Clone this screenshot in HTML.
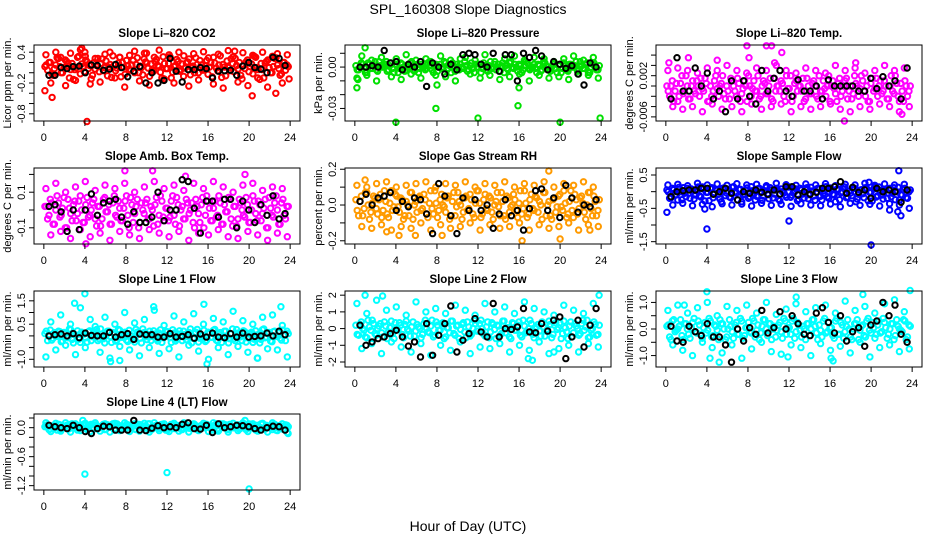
<!DOCTYPE html>
<html><head><meta charset="utf-8"><style>
html,body{margin:0;padding:0;background:#fff}
svg{display:block;font-family:"Liberation Sans",Arial,sans-serif}
</style></head><body>
<svg id="chart" width="936" height="540" viewBox="0 0 936 540" xmlns="http://www.w3.org/2000/svg">
<text x="468" y="14" font-size="14" text-anchor="middle">SPL_160308  Slope Diagnostics</text>
<text x="468" y="531" font-size="14" text-anchor="middle">Hour of Day (UTC)</text>
</svg>
<script>
const xCore=[0.1,0.37,0.63,0.9,1.16,1.43,1.69,1.96,2.22,2.49,2.75,3.02,3.28,3.55,3.81,4.08,4.34,4.61,4.87,5.14,5.4,5.67,5.93,6.2,6.46,6.73,6.99,7.26,7.52,7.79,8.05,8.32,8.58,8.85,9.11,9.38,9.64,9.91,10.17,10.44,10.7,10.97,11.23,11.5,11.76,12.03,12.29,12.56,12.82,13.09,13.35,13.62,13.88,14.15,14.41,14.68,14.94,15.21,15.47,15.74,16.0,16.27,16.53,16.8,17.06,17.33,17.59,17.86,18.12,18.39,18.65,18.92,19.18,19.45,19.71,19.98,20.24,20.51,20.77,21.04,21.3,21.57,21.83,22.1,22.36,22.63,22.89,23.16,23.42,23.69];
const xCore2=[0.23,0.5,0.76,1.03,1.29,1.56,1.82,2.09,2.35,2.62,2.88,3.15,3.41,3.68,3.94,4.21,4.47,4.74,5.0,5.27,5.53,5.8,6.06,6.33,6.59,6.86,7.12,7.39,7.65,7.92,8.18,8.45,8.71,8.98,9.24,9.51,9.77,10.04,10.3,10.57,10.83,11.1,11.36,11.63,11.89,12.16,12.42,12.69,12.95,13.22,13.48,13.75,14.01,14.28,14.54,14.81,15.07,15.34,15.6,15.87,16.13,16.4,16.66,16.93,17.19,17.46,17.72,17.99,18.25,18.52,18.78,19.05,19.31,19.58,19.84,20.11,20.37,20.64,20.9,21.17,21.43,21.7,21.96,22.23,22.49,22.76,23.02,23.29,23.55,23.82];
const xSpread=[0.2,0.68,1.16,1.64,2.12,2.6,3.08,3.56,4.04,4.52,5.0,5.48,5.96,6.44,6.92,7.4,7.88,8.36,8.84,9.32,9.8,10.28,10.76,11.24,11.72,12.2,12.68,13.16,13.64,14.12,14.6,15.08,15.56,16.04,16.52,17.0,17.48,17.96,18.44,18.92,19.4,19.88,20.36,20.84,21.32,21.8,22.28,22.76,23.24,23.72];
const xBlack=[0.5,1.09,1.68,2.27,2.86,3.45,4.04,4.63,5.22,5.81,6.4,6.99,7.58,8.17,8.76,9.35,9.94,10.53,11.12,11.71,12.3,12.89,13.48,14.07,14.66,15.25,15.84,16.43,17.02,17.61,18.2,18.79,19.38,19.97,20.56,21.15,21.74,22.33,22.92,23.51];
const xTicks=[0,4,8,12,16,20,24];

const co2Core=[0.12,0.05,0.2,-0.05,0.15,0.28,0.0,0.1,0.22,-0.1,0.18,0.06,0.3,-0.02,0.12,0.25,0.08,-0.12,0.2,0.14,0.02,0.27,0.1,-0.06,0.16,0.33,0.04,0.19,-0.08,0.11,0.24,0.07,0.15,0.0,0.29,0.13,-0.04,0.21,0.09,0.17,0.03,0.26,0.12,-0.1,0.18,0.08,0.31,0.01,0.14,0.22,0.06,-0.07,0.19,0.27,0.1,0.0,0.16,0.24,0.05,0.13,-0.03,0.2,0.3,0.09,0.15,-0.09,0.11,0.23,0.04,0.18,0.28,0.07,-0.05,0.14,0.21,0.02,0.17,0.32,0.1,-0.13,0.06,0.19,0.25,0.0,0.12,0.29,0.08,-0.02,0.2,0.15];
const co2Spread=[0.35,-0.2,0.4,0.3,-0.25,0.38,-0.15,0.45,0.32,-0.22,0.28,-0.18,0.36,0.4,-0.1,0.3,-0.28,0.34,0.42,-0.16,0.38,-0.24,0.3,0.44,-0.12,0.35,-0.2,0.4,0.33,-0.26,0.37,-0.14,0.41,0.29,-0.22,0.36,-0.3,0.43,0.31,-0.18,0.39,-0.25,0.34,-0.1,0.4,-0.28,0.32,0.37,-0.2,0.35];
const co2OutX=[0.1,0.8,3.7,4.0,4.2,10.0,18.6,20.3,22.6,23.9];
const co2OutY=[-0.35,-0.48,0.48,0.4,-0.95,0.38,0.42,-0.45,-0.4,-0.12];
const co2Black=[-0.05,-0.05,0.1,0.08,0.12,0.13,0.0,0.15,0.14,0.05,0.07,0.16,0.1,-0.08,0.03,0.12,-0.2,0.0,-0.2,-0.15,0.28,0.03,-0.18,0.06,0.06,0.1,0.08,-0.1,0.03,0.04,0.05,-0.05,0.13,0.2,0.1,0.07,0.0,0.3,0.28,0.14];

const presCore=[0.001,-0.002,0.003,0,-0.004,0.002,-0.001,0.004,-0.003,0.001,0,0.002,-0.002,0.003,-0.004,0.001,-0.001,0.002,-0.003,0,0.003,-0.002,0.001,-0.004,0.002,0,-0.001,0.004,-0.002,0.001,-0.003,0.002,0,0.003,-0.001,-0.004,0.001,0.002,-0.002,0,0.004,-0.003,0.001,-0.001,0.002,0,-0.004,0.003,-0.002,0.001,-0.001,0.002,0,-0.003,0.003,0.001,-0.002,0.004,-0.001,0,0.002,-0.004,0.001,0.003,-0.002,0,-0.001,0.002,-0.003,0.004,0.001,-0.002,0,0.003,-0.004,0.002,-0.001,0.001,-0.003,0.002,0,0.004,-0.002,0.001,-0.001,0.003,-0.004,0.002,0,-0.002];
const presSpread=[-0.008,0.008,-0.006,0.005,-0.01,0.007,0.004,-0.007,0.006,-0.009,0.009,-0.005,0.005,-0.008,0.006,0.004,-0.006,0.008,-0.007,0.005,-0.01,0.006,0.007,-0.005,0.005,-0.008,0.009,-0.006,0.004,-0.009,0.006,-0.007,0.008,-0.005,0.005,-0.01,0.007,-0.006,0.006,-0.008,0.004,-0.007,0.006,-0.009,0.008,-0.005,0.005,-0.006,0.007,-0.008];
const presOutX=[0.2,0.3,1.0,4.0,7.9,8.0,12.0,15.9,16.0,20.0,23.9];
const presOutY=[-0.015,-0.009,0.014,-0.04,-0.03,-0.013,-0.037,-0.028,-0.015,-0.04,-0.037];
const presBlack=[0,0,0.001,0,0.012,0.003,0.004,-0.002,0.002,0,0.004,-0.014,0.003,0,-0.005,0.002,-0.002,0.009,0.01,0.009,0.002,0,0.01,-0.003,0.009,0.009,-0.01,0.01,0.007,0.012,0.008,-0.002,0.004,0.002,-0.001,0.001,-0.005,-0.013,0.003,0];

const tempCore=[0,-0.002,0.001,-0.001,-0.003,0.0005,-0.0015,0.002,-0.0025,0,-0.001,0.001,-0.002,-0.0005,0.0015,-0.003,0,-0.001,0.002,-0.002,0.0005,-0.0015,0,-0.0025,0.001,-0.001,0.0015,-0.003,-0.0005,0,0.002,-0.002,0.001,-0.001,-0.0025,0,0.0005,-0.0015,0.0015,-0.003,-0.001,0,0.001,-0.002,0.002,-0.0005,-0.003,0.0005,-0.001,0,0.0015,-0.0025,0,-0.0015,0.001,-0.002,0.002,-0.001,-0.0005,0,-0.003,0.001,-0.0015,0.0005,-0.002,0,0.0015,-0.001,-0.0025,0.002,0,-0.0005,0.001,-0.002,-0.003,0.0005,-0.001,0.0015,0,-0.0015,0.001,-0.0025,0,-0.001,0.002,-0.002,0.0005,-0.003,0,-0.001];
const tempSpread=[0.003,-0.004,0.0035,-0.0045,0.003,-0.004,0.0025,-0.005,0.0035,-0.0035,0.003,-0.0045,0.004,-0.004,0.003,-0.005,0.0025,-0.0035,0.0035,-0.0045,0.003,-0.004,0.004,-0.0035,0.003,-0.005,0.0025,-0.004,0.0035,-0.0045,0.003,-0.004,0.0025,-0.0035,0.004,-0.0045,0.003,-0.005,0.0035,-0.004,0.0025,-0.0045,0.003,-0.0035,0.004,-0.004,0.003,-0.005,0.0035,-0.004];
const tempOutX=[0.3,2.2,5.0,7.9,8.1,9.8,10.3,10.6,11.3,17.4,18.5,23.0];
const tempOutY=[0.0045,0.0055,0.005,0.0078,0.0055,0.0078,0.0078,0.0045,0.0065,-0.0068,0.0045,-0.0055];
const tempBlack=[-0.0025,0.0055,-0.001,-0.001,0.0035,0,0.0025,-0.0025,-0.001,-0.005,0.001,-0.0025,0.001,-0.002,-0.0035,0.003,-0.001,0.0015,0.003,-0.001,-0.002,0.0012,-0.001,-0.001,0,-0.0025,0.0012,0,0,0,0,-0.001,-0.001,0.0015,-0.0005,0.0018,0,0.001,-0.0025,0.0035];

const ambCore=[0.02,-0.05,0.06,-0.08,0.0,0.04,-0.03,0.07,-0.1,0.01,-0.06,0.05,-0.02,0.08,-0.07,0.03,-0.04,0.0,0.06,-0.09,0.02,-0.05,0.07,-0.01,-0.08,0.04,-0.03,0.05,-0.06,0.01,0.08,-0.1,0.03,-0.02,0.06,-0.07,0.0,0.04,-0.05,0.02,-0.09,0.07,-0.03,0.05,-0.06,0.01,-0.04,0.08,-0.08,0.03,0.0,-0.05,0.06,-0.02,0.04,-0.1,0.02,-0.07,0.07,-0.03,0.05,-0.06,0.01,-0.04,0.08,-0.08,0.03,-0.01,0.06,-0.09,0.02,-0.05,0.04,-0.03,0.07,-0.07,0.0,0.05,-0.06,0.03,-0.02,0.06,-0.1,0.01,-0.04,0.08,-0.08,0.04,-0.03,0.02];
const ambSpread=[0.12,-0.14,0.15,-0.12,0.1,-0.16,0.13,-0.11,0.16,-0.15,0.11,-0.13,0.14,-0.17,0.12,-0.12,0.15,-0.14,0.1,-0.16,0.13,-0.11,0.16,-0.13,0.12,-0.15,0.14,-0.12,0.11,-0.17,0.15,-0.13,0.12,-0.14,0.16,-0.11,0.13,-0.15,0.1,-0.16,0.14,-0.12,0.15,-0.14,0.11,-0.17,0.13,-0.13,0.12,-0.15];
const ambOutX=[4.1,7.9,10.6,19.6,13.8];
const ambOutY=[-0.19,0.22,0.22,0.2,0.19];
const ambBlack=[0.02,0.03,-0.01,-0.12,0.0,-0.11,0.0,0.09,-0.03,0.04,0.05,0.06,-0.04,-0.08,-0.01,-0.07,-0.07,-0.04,0.1,-0.06,0.0,0.0,0.17,0.16,0.01,-0.13,0.05,0.05,-0.04,0.06,0.06,-0.1,0.05,0.0,-0.07,0.03,-0.03,0.08,-0.05,-0.02];

const rhCore=[0.03,-0.06,0.05,-0.02,0.07,-0.08,0.01,0.04,-0.05,0.06,-0.03,0.02,-0.07,0.08,-0.01,0.05,-0.04,0.03,-0.06,0.0,0.07,-0.08,0.02,0.04,-0.03,0.06,-0.05,0.01,-0.02,0.08,-0.07,0.03,0.0,-0.04,0.05,-0.06,0.07,-0.01,0.02,-0.08,0.04,-0.03,0.06,-0.05,0.01,0.08,-0.07,0.03,-0.02,0.05,-0.04,0.0,0.07,-0.06,0.02,-0.08,0.04,-0.01,0.06,-0.03,0.01,-0.05,0.08,-0.07,0.03,-0.02,0.05,-0.04,0.0,0.07,-0.06,0.02,-0.08,0.04,-0.01,0.06,-0.03,0.01,-0.05,0.08,-0.07,0.03,-0.02,0.05,-0.04,0.0,0.07,-0.06,0.02,-0.03];
const rhSpread=[0.11,-0.12,0.1,-0.13,0.12,-0.11,0.13,-0.14,0.1,-0.12,0.11,-0.13,0.12,-0.1,0.13,-0.14,0.1,-0.11,0.12,-0.13,0.11,-0.12,0.13,-0.1,0.1,-0.14,0.12,-0.11,0.11,-0.13,0.13,-0.12,0.1,-0.1,0.12,-0.14,0.11,-0.11,0.13,-0.13,0.1,-0.12,0.12,-0.1,0.11,-0.14,0.13,-0.11,0.1,-0.12];
const rhOutX=[4.3,5.9,8.5,16.3,18.9,20.0,22.9,1.0,3.1];
const rhOutY=[-0.17,-0.17,-0.17,-0.2,0.19,-0.19,-0.14,0.14,-0.15];
const rhBlack=[0.02,0.06,0.0,0.04,0.05,0.07,-0.03,0.02,-0.01,0.04,0.03,-0.05,-0.16,0.12,0.05,-0.06,-0.16,0.04,-0.03,0.03,-0.03,0.0,-0.13,-0.05,0.03,-0.06,-0.03,-0.14,-0.02,0.08,0.09,-0.03,0.04,-0.07,0.11,0.04,-0.04,0.0,-0.01,0.03];

const sfCore=[0.05,-0.2,0.1,-0.1,-0.25,0.0,0.12,-0.15,-0.05,0.08,-0.22,0.03,-0.12,0.14,-0.28,-0.02,0.09,-0.18,0.06,-0.08,-0.3,0.11,-0.04,-0.16,0.13,0.0,-0.24,0.07,-0.1,0.04,-0.2,0.15,-0.06,-0.14,0.1,-0.26,0.02,-0.09,0.12,-0.19,0.05,-0.23,0.08,-0.03,-0.17,0.14,-0.11,0.0,-0.27,0.1,-0.07,0.06,-0.21,0.13,-0.13,-0.01,0.09,-0.25,0.03,-0.15,0.11,-0.08,-0.3,0.07,-0.04,0.15,-0.18,0.01,-0.12,0.1,-0.22,0.04,-0.06,0.12,-0.27,-0.02,0.08,-0.16,0.14,-0.1,0.02,-0.2,0.1,-0.05,-0.24,0.13,-0.09,0.06,-0.18,0.0];
const sfSpread=[0.2,-0.4,0.22,-0.35,0.18,-0.42,0.25,-0.38,0.2,-0.45,0.23,-0.36,0.19,-0.4,0.24,-0.37,0.2,-0.43,0.22,-0.35,0.18,-0.41,0.25,-0.38,0.21,-0.44,0.19,-0.36,0.23,-0.4,0.2,-0.42,0.24,-0.37,0.18,-0.45,0.22,-0.35,0.2,-0.41,0.25,-0.38,0.19,-0.43,0.23,-0.36,0.2,-0.4,0.22,-0.5];
const sfOutX=[0.1,4.0,3.8,12.0,20.0,22.7,22.9,19.8,21.8,22.6];
const sfOutY=[-0.62,-1.12,-0.52,-0.88,-1.6,0.63,-0.72,0.28,-0.55,-0.6];
const sfBlack=[-0.15,0.0,0.03,0.05,0.05,0.1,0.1,-0.08,0.0,0.1,-0.05,-0.25,0.0,-0.05,0.05,-0.02,-0.08,0.05,-0.07,0.15,0.15,-0.1,0.0,-0.08,-0.02,0.1,0.1,0.15,0.3,-0.05,0.13,-0.02,0.05,-0.2,0.1,0.0,0.05,0.0,-0.32,0.05];

const l1Core=[0.1,-0.2,0.25,-0.1,0.0,0.2,-0.25,0.15,-0.05,0.3,-0.15,0.05,0.22,-0.28,0.12,-0.08,0.18,-0.2,0.02,0.27,-0.12,0.08,-0.3,0.2,-0.02,0.14,-0.22,0.28,-0.06,0.1,-0.18,0.24,0.0,-0.26,0.16,-0.1,0.3,-0.04,0.06,-0.2,0.22,-0.14,0.12,-0.28,0.04,0.18,-0.08,0.26,-0.22,0.08,-0.02,0.2,-0.16,0.14,-0.3,0.1,0.28,-0.1,0.02,-0.24,0.16,-0.06,0.24,-0.18,0.06,-0.28,0.2,0.0,-0.12,0.3,-0.2,0.12,-0.04,0.22,-0.26,0.08,0.16,-0.14,0.04,-0.3,0.26,-0.08,0.1,-0.22,0.18,-0.02,0.14,-0.18,0.06,0.2];
const l1Spread=[-0.9,0.6,-0.6,0.9,-0.4,0.5,-0.8,1.2,-0.5,0.7,0.4,-0.7,0.8,-0.95,0.5,-0.45,1.0,-0.6,0.55,-0.85,0.7,-0.5,1.1,-0.75,0.45,-0.55,0.85,-0.9,0.6,-0.4,0.95,-0.65,0.5,-1.0,0.75,-0.5,0.6,-0.8,1.05,-0.45,0.65,-0.7,0.5,-0.95,0.8,-0.55,0.9,-0.6,0.45,-0.9];
const l1OutX=[4.0,3.0,15.6,10.7,23.1,15.9,6.5,7.4,20.8];
const l1OutY=[1.8,1.4,1.35,1.25,1.25,-1.2,-1.1,-1.05,-0.95];
const l1Black=[0.0,0.05,0.08,0.0,0.1,-0.08,0.12,0.02,0.0,0.0,0.15,-0.05,0.05,0.1,-0.15,0.08,0.05,0.05,-0.05,-0.05,0.1,-0.05,-0.02,0.05,-0.1,0.08,-0.05,0.12,-0.05,-0.08,0.1,-0.05,0.12,-0.05,-0.02,0.0,0.12,0.0,0.2,0.05];

const l2Core=[0.2,-0.4,0.4,-0.1,-0.55,0.1,0.5,-0.3,0.0,0.3,-0.5,0.15,-0.2,0.45,-0.6,0.05,0.35,-0.35,0.25,-0.05,-0.45,0.4,-0.15,0.1,-0.55,0.3,0.0,-0.25,0.5,-0.4,0.2,-0.1,0.35,-0.5,0.05,0.45,-0.3,0.15,-0.6,0.25,-0.2,0.4,-0.45,0.0,0.3,-0.15,0.5,-0.35,0.1,-0.55,0.35,-0.05,0.2,-0.4,0.45,-0.25,0.05,-0.6,0.3,-0.1,0.4,-0.5,0.15,-0.2,0.5,-0.35,0.0,0.25,-0.45,0.1,-0.15,0.45,-0.55,0.2,-0.05,0.35,-0.3,0.05,-0.6,0.4,-0.25,0.15,-0.4,0.3,-0.1,0.5,-0.5,0.0,0.25,-0.35];
const l2Spread=[1.5,-1.2,0.9,-0.9,1.7,-1.5,1.1,-0.8,1.3,-1.1,0.8,-1.4,1.6,-0.9,1.0,-1.6,1.2,-1.0,0.9,-1.3,1.4,-0.8,1.1,-1.5,0.8,-1.1,1.5,-1.2,1.0,-0.9,1.3,-1.4,0.9,-1.0,1.6,-1.3,1.2,-0.8,1.0,-1.5,0.8,-1.2,1.4,-1.0,1.1,-1.4,0.9,-0.9,1.5,-1.1];
const l2OutX=[1.0,2.7,16.9,17.3,19.4,23.8];
const l2OutY=[2.0,1.95,-1.8,-1.9,-1.4,2.0];
const l2Black=[0.2,-1.0,-0.8,-0.6,-0.5,-0.3,-0.1,-0.5,-1.05,-0.8,-1.7,0.3,-1.6,-0.4,0.3,1.35,-1.4,-0.7,-0.3,0.6,-0.2,-0.5,1.5,-0.5,0.0,-0.05,0.1,1.2,-0.2,-0.25,0.3,-0.15,0.5,0.7,-1.8,-0.5,0.5,-1.1,0.2,1.2];

const l3Core=[0.1,-0.3,0.3,-0.1,0.0,0.35,-0.4,0.2,-0.2,0.05,0.4,-0.15,0.15,-0.35,0.25,-0.05,0.3,-0.25,0.1,-0.4,0.2,0.0,-0.3,0.35,-0.1,0.15,-0.2,0.4,-0.35,0.05,0.25,-0.15,0.3,-0.05,-0.4,0.1,0.35,-0.25,0.2,0.0,-0.3,0.15,-0.1,0.4,-0.2,0.05,0.3,-0.35,0.25,-0.05,0.1,-0.4,0.2,0.0,0.35,-0.15,0.15,-0.3,0.4,-0.1,0.05,-0.25,0.3,-0.2,0.25,-0.35,0.1,0.0,-0.4,0.2,0.35,-0.05,0.15,-0.3,0.4,-0.15,0.05,-0.2,0.3,-0.1,0.25,-0.35,0.0,0.2,-0.25,0.1,-0.05,0.35,-0.4,0.15];
const l3Spread=[0.7,-0.6,0.9,-0.8,0.6,-1.0,0.8,-0.5,1.0,-0.7,0.5,-0.9,0.85,-0.6,0.7,-1.1,0.9,-0.75,0.6,-0.5,1.0,-0.85,0.55,-0.95,0.75,-0.6,0.95,-0.7,0.65,-1.0,0.8,-0.55,0.9,-0.8,0.6,-0.65,1.05,-0.9,0.7,-0.5,0.85,-1.05,0.6,-0.7,0.95,-0.6,1.1,-0.85,0.65,-0.75];
const l3OutX=[4.0,1.8,4.3,5.2,11.9,16.1,16.3,19.2,23.8,12.7];
const l3OutY=[1.4,0.9,-1.1,-1.25,-1.05,-1.1,-1.2,1.3,1.45,1.2];
const l3Black=[0.1,-0.45,-0.5,0.1,-0.1,-0.25,0.2,-0.3,-0.3,-0.6,-1.25,0.0,-0.45,0.05,-0.2,0.7,-0.15,0.05,0.65,0.0,0.5,0.2,-0.2,-0.25,0.6,0.8,0.25,-0.15,0.5,-0.45,-0.1,0.05,-0.65,0.15,0.3,1.0,0.5,0.9,-0.2,-0.5];

const l4Core=[0.02,0.06,-0.03,0.04,0.0,0.07,-0.04,0.03,0.05,-0.02,0.08,0.01,-0.05,0.04,0.06,-0.01,0.02,0.07,-0.03,0.05,0.0,0.03,-0.04,0.06,0.01,0.08,-0.02,0.04,-0.05,0.02,0.07,0.0,0.05,-0.03,0.03,0.06,-0.01,0.04,0.08,-0.04,0.02,0.05,-0.02,0.07,0.01,-0.05,0.03,0.06,0.0,0.04,-0.03,0.08,0.02,-0.01,0.05,0.07,-0.04,0.03,0.0,0.06,0.01,-0.02,0.04,0.08,-0.05,0.02,0.05,-0.03,0.07,0.0,0.03,0.06,-0.01,0.04,-0.04,0.08,0.02,-0.02,0.05,0.01,0.07,-0.03,0.03,0.0,0.06,-0.05,0.04,0.02,-0.04,0.05];
const l4Spread=[0.1,-0.08,0.09,-0.07,0.1,-0.09,0.08,-0.06,0.09,-0.08,0.1,-0.07,0.08,-0.09,0.09,-0.06,0.1,-0.08,0.08,-0.07,0.09,-0.09,0.1,-0.06,0.08,-0.08,0.09,-0.07,0.1,-0.09,0.08,-0.06,0.09,-0.08,0.1,-0.07,0.08,-0.09,0.09,-0.06,0.1,-0.08,0.08,-0.07,0.09,-0.09,0.1,-0.06,0.08,-0.1];
const l4OutX=[3.8,4.0,12.0,19.6,20.0,23.8];
const l4OutY=[0.15,-0.96,-0.93,0.15,-1.27,-0.12];
const l4Black=[0.05,0.02,0.0,-0.02,0.05,0.0,-0.08,-0.12,-0.02,0.03,0.02,-0.05,-0.05,-0.05,0.15,-0.05,-0.06,-0.01,0.04,0.0,0.02,0.0,0.07,0.1,-0.02,-0.03,0.05,-0.1,0.08,0.0,0.02,0.05,0.04,0.02,-0.02,-0.05,0.0,0.03,0.02,-0.05];

const panels=[
 {key:'co2',title:'Slope Li–820 CO2',ylab:'Licor ppm per min.',col:0,row:0,ylim:[-0.94,0.54],ticks:[0.4,0.2,0,-0.2,-0.4,-0.6,-0.8],labels:{'0.4':'0.4','-0.2':'-0.2','-0.8':'-0.8'},color:'#ff0000',core:co2Core,spread:co2Spread,ox:co2OutX,oy:co2OutY,black:co2Black},
 {key:'pressure',title:'Slope Li–820 Pressure',ylab:'kPa per min.',col:1,row:0,ylim:[-0.0391,0.016],ticks:[0.01,0,-0.01,-0.02,-0.03],labels:{'0':'0.00','-0.03':'-0.03'},color:'#00e000',core:presCore,spread:presSpread,ox:presOutX,oy:presOutY,black:presBlack},
 {key:'temp',title:'Slope Li–820 Temp.',ylab:'degrees C per min.',col:2,row:0,ylim:[-0.0068,0.00796],ticks:[0.006,0.004,0.002,0,-0.002,-0.004,-0.006],labels:{'0.002':'0.002','-0.006':'-0.006'},color:'#ff00ff',core:tempCore,spread:tempSpread,ox:tempOutX,oy:tempOutY,black:tempBlack},
 {key:'amb',title:'Slope Amb. Box Temp.',ylab:'degrees C per min.',col:0,row:1,ylim:[-0.191,0.236],ticks:[0.2,0.1,0,-0.1],labels:{'0.1':'0.1','-0.1':'-0.1'},color:'#ff00ff',core:ambCore,spread:ambSpread,ox:ambOutX,oy:ambOutY,black:ambBlack},
 {key:'rh',title:'Slope Gas Stream RH',ylab:'percent per min.',col:1,row:1,ylim:[-0.218,0.207],ticks:[0.2,0.1,0,-0.1,-0.2],labels:{'0.2':'0.2','0':'0.0','-0.2':'-0.2'},color:'#ff9a00',core:rhCore,spread:rhSpread,ox:rhOutX,oy:rhOutY,black:rhBlack},
 {key:'sampleflow',title:'Slope Sample Flow',ylab:'ml/min per min.',col:2,row:1,ylim:[-1.57,0.71],ticks:[0.5,0,-0.5,-1,-1.5],labels:{'0.5':'0.5','-0.5':'-0.5','-1.5':'-1.5'},color:'#0000ff',core:sfCore,spread:sfSpread,ox:sfOutX,oy:sfOutY,black:sfBlack},
 {key:'line1',title:'Slope Line 1 Flow',ylab:'ml/min per min.',col:0,row:2,ylim:[-1.33,1.92],ticks:[1.5,1,0.5,0,-0.5,-1],labels:{'1.5':'1.5','0.5':'0.5','-1':'-1.0'},color:'#00ffff',core:l1Core,spread:l1Spread,ox:l1OutX,oy:l1OutY,black:l1Black},
 {key:'line2',title:'Slope Line 2 Flow',ylab:'ml/min per min.',col:1,row:2,ylim:[-2.3,2.25],ticks:[2,1,0,-1,-2],labels:{'2':'2','1':'1','0':'0','-1':'-1','-2':'-2'},color:'#00ffff',core:l2Core,spread:l2Spread,ox:l2OutX,oy:l2OutY,black:l2Black},
 {key:'line3',title:'Slope Line 3 Flow',ylab:'ml/min per min.',col:2,row:2,ylim:[-1.43,1.43],ticks:[1,0.5,0,-0.5,-1],labels:{'1':'1.0','0':'0.0','-1':'-1.0'},color:'#00ffff',core:l3Core,spread:l3Spread,ox:l3OutX,oy:l3OutY,black:l3Black},
 {key:'line4',title:'Slope Line 4 (LT) Flow',ylab:'ml/min per min.',col:0,row:3,ylim:[-1.29,0.283],ticks:[0.2,0,-0.2,-0.4,-0.6,-0.8,-1,-1.2],labels:{'0':'0.0','-0.6':'-0.6','-1.2':'-1.2'},color:'#00ffff',core:l4Core,spread:l4Spread,ox:l4OutX,oy:l4OutY,black:l4Black}
];

const NS='http://www.w3.org/2000/svg';
const svg=document.getElementById('chart');
function mk(tag,attrs,parent){const e=document.createElementNS(NS,tag);for(const k in attrs)e.setAttribute(k,attrs[k]);(parent||svg).appendChild(e);return e;}

panels.forEach(p=>{
  const L=34+p.col*311, R=L+266, T=45+p.row*123, B=T+76;
  const g=mk('g',{});
  
  
  const xs=v=>L+(v+0.96)/25.92*(R-L);
  const ys=v=>B-(v-p.ylim[0])/(p.ylim[1]-p.ylim[0])*(B-T);
  const t=mk('text',{x:(L+R)/2,y:T-8,'font-size':11.5,'font-weight':'bold','text-anchor':'middle'},g);
  t.textContent=p.title;
  
  
  const pts=mk('g',{fill:'none','stroke-width':2},g);
  
  
  function dot(x,y,c){const e=mk('circle',{cx:xs(x).toFixed(1),cy:ys(y).toFixed(1),r:2.7,stroke:c},pts);
    
    }
  p.spread.forEach((v,i)=>dot(xSpread[i],v,p.color));
  p.core.forEach((v,i)=>dot(xCore[i],v,p.color));
  const n=p.core.length;
  p.core.forEach((v,i)=>dot(xCore2[n-1-i],v,p.color));
  p.ox.forEach((x,i)=>dot(x,p.oy[i],p.color));
  p.black.forEach((v,i)=>dot(xBlack[i],v,'#000'));
  const box=mk('rect',{x:L,y:T,width:R-L,height:B-T,fill:'none',stroke:'#000','stroke-width':1},g);
  
  
  const xa=mk('g',{},g);
  
  
  xTicks.forEach(v=>{const x=xs(v);
    mk('line',{x1:x,x2:x,y1:B,y2:B+5,stroke:'#000'},xa);
    const tl=mk('text',{x:x,y:B+20,'font-size':11,'text-anchor':'middle'},xa);
    tl.textContent=String(v);
    
    });
  const ya=mk('g',{},g);
  
  
  p.ticks.forEach(v=>{const y=ys(v);
    mk('line',{x1:L-5,x2:L,y1:y,y2:y,stroke:'#000'},ya);
    const lab=p.labels[String(v)];
    if(lab!==undefined){const tl=mk('text',{x:L-9,y:y,'font-size':11,'text-anchor':'middle',transform:'rotate(-90 '+(L-9)+' '+y+')'},ya);
      tl.textContent=lab;
      
      }});
  const cy=(T+B)/2, tx=L-23;
  const yt=mk('text',{x:tx,y:cy,'font-size':11,'text-anchor':'middle',transform:'rotate(-90 '+tx+' '+cy+')'},g);
  yt.textContent=p.ylab;
  
  
});
</script>
</body></html>
